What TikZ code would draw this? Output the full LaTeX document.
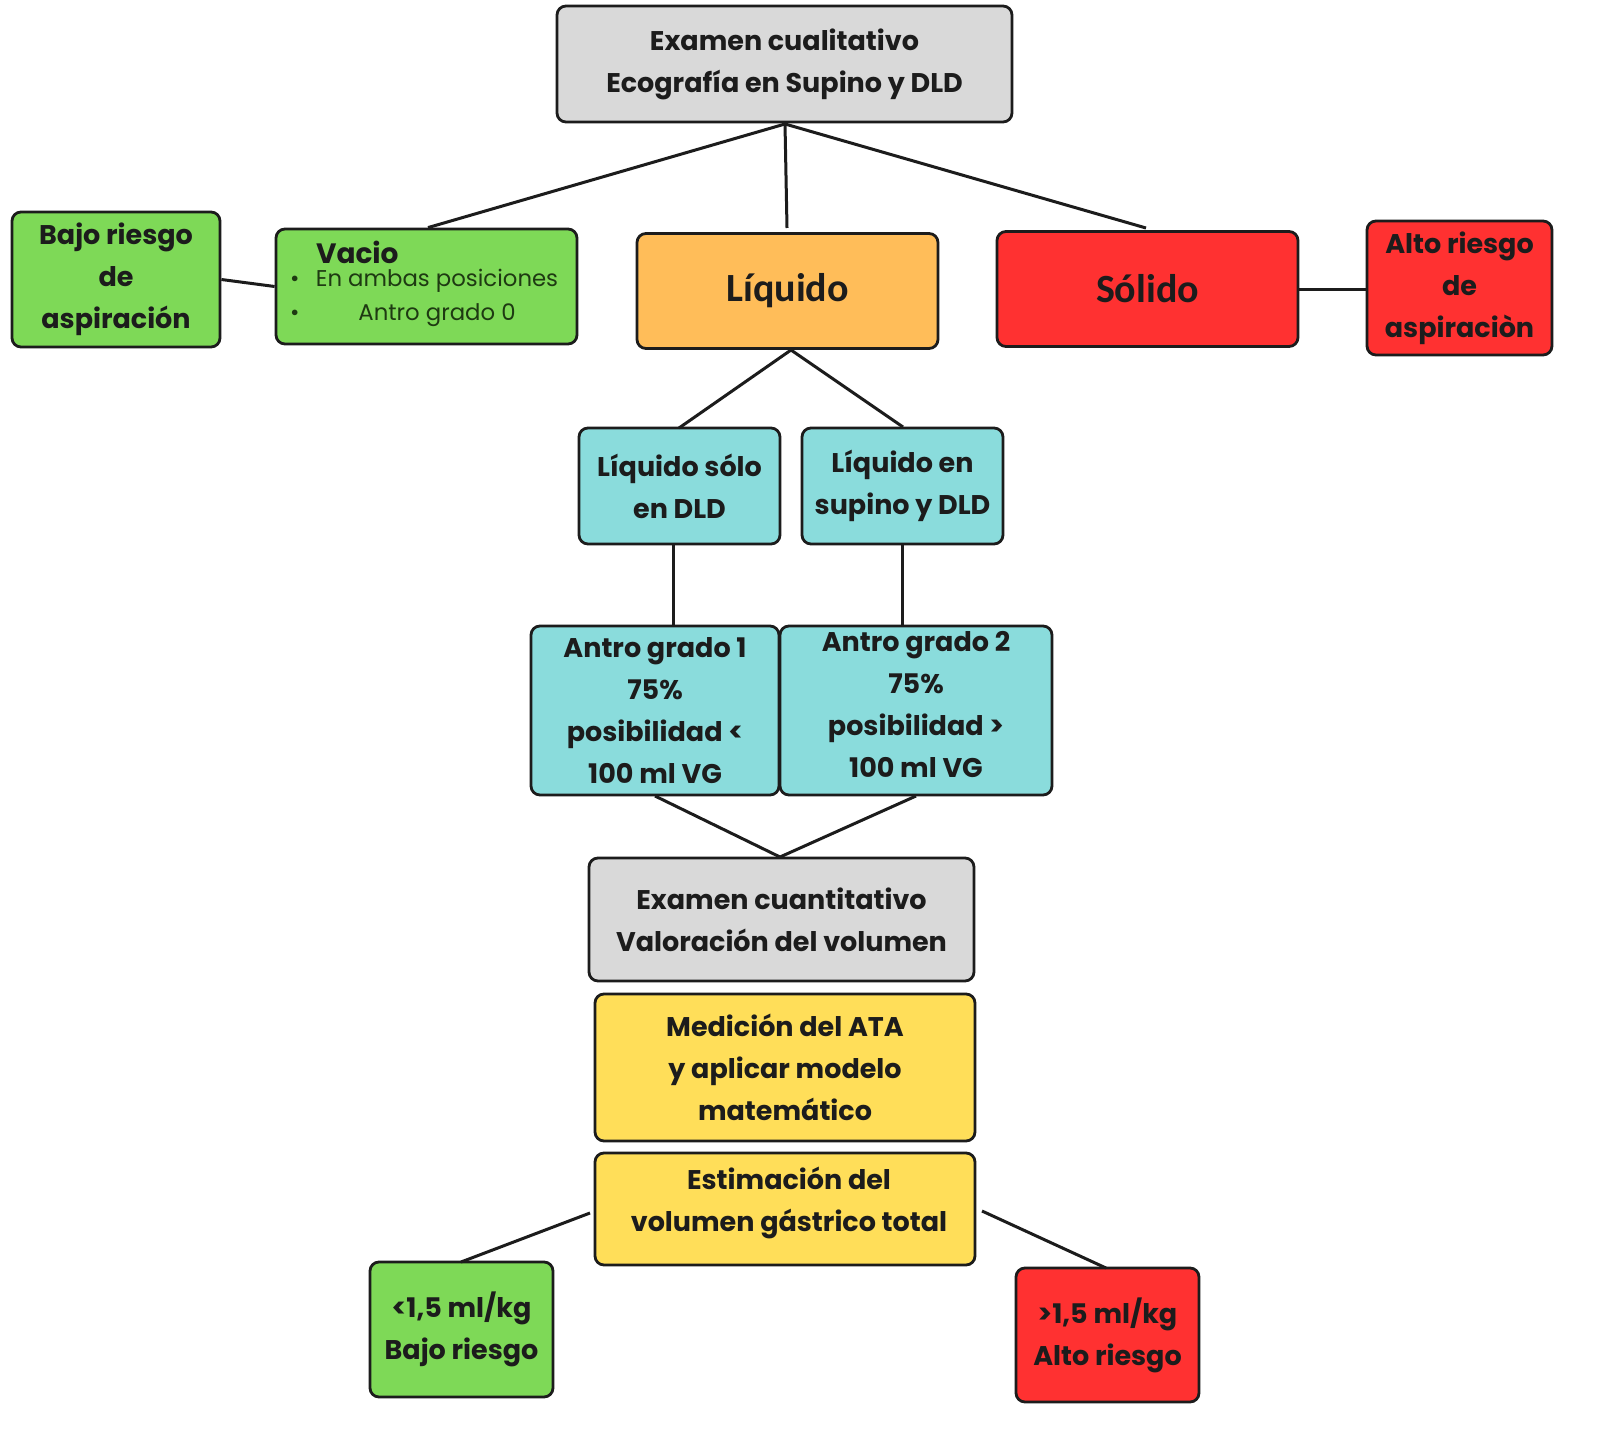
\documentclass[tikz,border=0pt]{standalone}
\usepackage{fontspec}
\setmainfont{Poppins}
\newfontfamily\calib{Carlito}
\definecolor{gbox}{HTML}{D9D9D9}
\definecolor{grn}{HTML}{7ED957}
\definecolor{org}{HTML}{FFBD59}
\definecolor{rd}{HTML}{FF3131}
\definecolor{tl}{HTML}{8ADCDC}
\definecolor{yl}{HTML}{FFDE59}
\definecolor{ink}{HTML}{1C1C1C}
\definecolor{dgr}{HTML}{1E3A12}
\tikzset{
  bx/.style={draw=ink, line width=1.4pt, rounded corners=4.5pt, align=center, text=ink, inner sep=0pt,
    font=\fontsize{13.5}{21}\selectfont\bfseries},
  tx/.style={align=center, text=ink, inner sep=0pt, font=\fontsize{13.5}{21}\selectfont\bfseries},
  ln/.style={draw=ink, line width=1.5pt}
}
\begin{document}
\begin{tikzpicture}[x=0.5pt,y=-0.5pt]
\useasboundingbox[fill=white] (0,0) rectangle (1600,1439);
\node[bx, fill=gbox, minimum width=227.5pt, minimum height=58pt] (top) at (784.5,64) {Examen cualitativo\\Ecografía en Supino y DLD};
\node[bx, fill=grn, minimum width=104pt, minimum height=67.5pt] (bajo) at (116,279.5) {Bajo riesgo\\de\\aspiración};
\node[bx, fill=grn, minimum width=150.5pt, minimum height=57.5pt] (vac) at (426.5,286.5) {};
\node[anchor=west, text=ink, font=\fontsize{14}{15}\selectfont\bfseries] (vact) at (309,252) {Vacio};
\node[anchor=west, text=dgr, font=\fontsize{11.4}{12}\selectfont] (b1) at (283,281) {•};
\node[anchor=west, text=dgr, font=\fontsize{11.4}{12}\selectfont] (b2) at (283,315) {•};
\node[text=dgr, font=\fontsize{11.4}{12}\selectfont] (t1) at (437,281) {En ambas posiciones};
\node[text=dgr, font=\fontsize{11.4}{12}\selectfont] (t2) at (437,315) {Antro grado 0};
\node[bx, fill=org, minimum width=150.5pt, minimum height=57.5pt, font=\calib\fontsize{20}{24}\selectfont\bfseries] (liq) at (787.5,291) {Líquido};
\node[bx, fill=rd, minimum width=150.5pt, minimum height=57.5pt, font=\calib\fontsize{20}{24}\selectfont\bfseries] (sol) at (1147.5,289) {Sólido};
\node[bx, fill=rd, minimum width=92.5pt, minimum height=67pt] (alto) at (1459.5,288) {Alto riesgo\\de\\aspiraciòn};
\node[bx, fill=tl, minimum width=100.5pt, minimum height=58pt] (ls) at (679.5,486) {Líquido sólo\\en DLD};
\node[bx, fill=tl, minimum width=100.5pt, minimum height=58pt] (le) at (902.5,486) {Líquido en\\supino y DLD};
\node[bx, fill=tl, minimum width=124pt, minimum height=84.5pt] (a1) at (655,710.5) {Antro grado 1\\75\%\\posibilidad <\\100 ml VG};
\node[bx, fill=tl, minimum width=136pt, minimum height=84.5pt] (a2) at (916,710.5) {};
\node[tx] (a2t) at (916,704) {Antro grado 2\\75\%\\posibilidad >\\100 ml VG};
\node[bx, fill=gbox, minimum width=192.5pt, minimum height=61.5pt] (ecu) at (781.5,919.5) {Examen cuantitativo\\Valoración del volumen};
\node[bx, fill=yl, minimum width=190pt, minimum height=73.5pt] (med) at (785,1067.5) {Medición del ATA\\y aplicar modelo\\matemático};
\node[bx, fill=yl, minimum width=190pt, minimum height=56pt] (est) at (785,1209) {};
\node[tx] (estt) at (789,1203) {Estimación del\\volumen gástrico total};
\node[bx, fill=grn, minimum width=91.5pt, minimum height=67.5pt] (lo) at (461.5,1329.5) {<1,5 ml/kg\\Bajo riesgo};
\node[bx, fill=rd, minimum width=91.5pt, minimum height=67pt] (hi) at (1107.5,1335) {>1,5 ml/kg\\Alto riesgo};
% connectors
\coordinate (tb) at (785,124);
\draw[ln] (tb) -- (vac.north -| 428,0);
\draw[ln] (tb) -- (787,228);
\draw[ln] (tb) -- (1146,228);
\draw[ln] (bajo.east) -- (vac.west);
\draw[ln] (sol.east) -- (alto.west |- sol.east);
\coordinate (lq) at (791,350);
\draw[ln] (lq) -- (679,428);
\draw[ln] (lq) -- (903,427);
\draw[ln] (673,545) -- (673,626);
\draw[ln] (902,545) -- (902,626);
\coordinate (am) at (780,857);
\draw[ln] (655,796) -- (am);
\draw[ln] (916,796) -- (am);
\draw[ln] (590,1213) -- (461,1262);
\draw[ln] (982,1211) -- (1106,1268);
\end{tikzpicture}
\end{document}
